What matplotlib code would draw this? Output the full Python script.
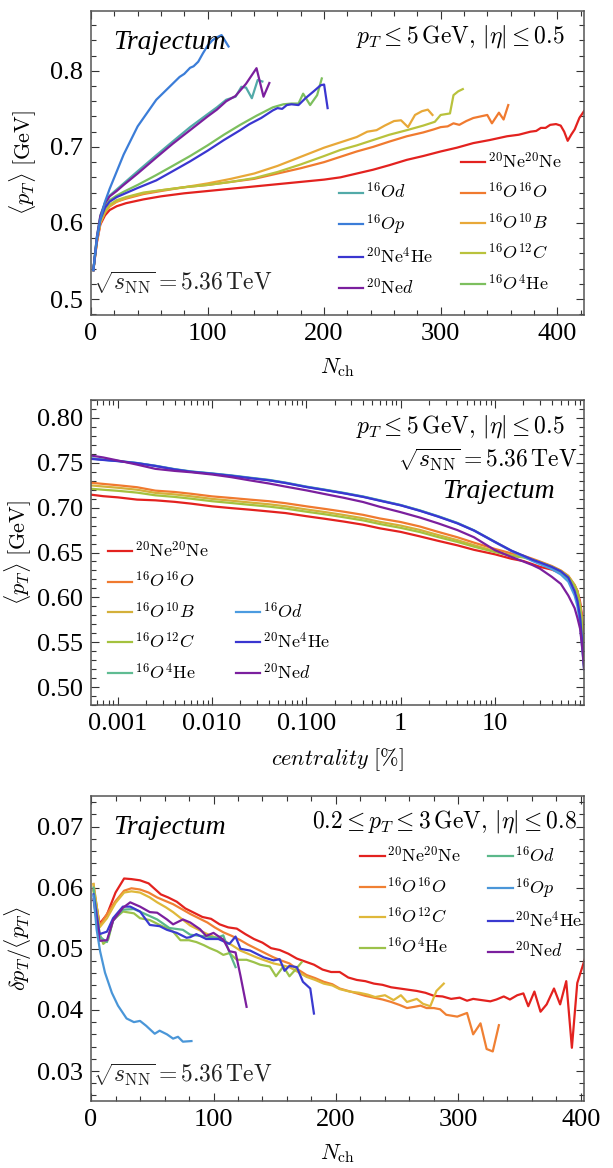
import matplotlib
matplotlib.use('Agg')
import matplotlib.pyplot as plt
from matplotlib.lines import Line2D
from matplotlib.ticker import MultipleLocator, LogLocator, NullFormatter

plt.rcParams['font.family'] = ['Liberation Serif', 'DejaVu Serif']
plt.rcParams['mathtext.fontset'] = 'cm'

# ---------------- painel 1: <pT> vs Nch ----------------
n1_NeNe = [2, 5, 8, 12, 16, 22, 30, 45, 60, 80, 100, 120, 140, 160, 180, 200, 214, 228, 242, 256, 271, 285,
           300, 314, 328, 342, 357, 367, 377, 382, 386, 390, 394, 399, 403, 406, 409, 412, 415, 419, 423]
p1_NeNe = [0.538, 0.574, 0.598, 0.610, 0.617, 0.622, 0.626, 0.631, 0.635, 0.639, 0.642, 0.645, 0.648, 0.651,
           0.654, 0.657, 0.660, 0.665, 0.670, 0.676, 0.683, 0.688, 0.694, 0.699, 0.705, 0.709, 0.714, 0.716,
           0.720, 0.721, 0.725, 0.725, 0.729, 0.730, 0.728, 0.720, 0.708, 0.716, 0.723, 0.738, 0.747]
n1_OO = [2, 5, 8, 12, 16, 22, 30, 45, 60, 80, 100, 120, 140, 160, 180, 200, 214, 228, 242, 256, 271, 285, 294,
         300, 306, 311, 316, 322, 328, 334, 340, 344, 350, 354, 358]
p1_OO = [0.538, 0.576, 0.600, 0.614, 0.622, 0.628, 0.632, 0.638, 0.642, 0.647, 0.650, 0.654, 0.658, 0.665, 0.672,
         0.680, 0.687, 0.694, 0.700, 0.707, 0.714, 0.719, 0.723, 0.726, 0.727, 0.731, 0.729, 0.734, 0.738, 0.740,
         0.742, 0.731, 0.745, 0.736, 0.755]
n1_OB = [2, 5, 8, 12, 16, 22, 30, 45, 60, 80, 100, 120, 140, 160, 180, 200, 214, 228, 237, 245, 252, 260, 266,
         272, 278, 284, 289, 293]
p1_OB = [0.538, 0.576, 0.600, 0.614, 0.622, 0.628, 0.633, 0.639, 0.643, 0.647, 0.652, 0.658, 0.665, 0.675, 0.687,
         0.699, 0.706, 0.713, 0.720, 0.722, 0.728, 0.734, 0.735, 0.726, 0.742, 0.747, 0.749, 0.742]
n1_OC = [2, 5, 8, 12, 16, 22, 30, 45, 60, 80, 100, 120, 140, 160, 180, 200, 214, 228, 242, 256, 271, 285, 295,
         300, 308, 311, 315, 319]
p1_OC = [0.538, 0.577, 0.602, 0.616, 0.624, 0.630, 0.634, 0.640, 0.643, 0.647, 0.650, 0.654, 0.659, 0.667, 0.677,
         0.688, 0.696, 0.702, 0.709, 0.716, 0.722, 0.728, 0.733, 0.742, 0.744, 0.768, 0.773, 0.776]
n1_OHe = [2, 5, 8, 12, 16, 22, 28, 40, 56, 70, 85, 100, 114, 128, 142, 156, 165, 172, 178, 182, 188, 194, 198]
p1_OHe = [0.538, 0.580, 0.607, 0.622, 0.630, 0.636, 0.641, 0.650, 0.663, 0.675, 0.688, 0.702, 0.716, 0.729,
          0.741, 0.752, 0.756, 0.757, 0.757, 0.770, 0.755, 0.768, 0.790]
n1_NeHe = [2, 5, 8, 12, 16, 22, 28, 40, 56, 70, 85, 100, 114, 128, 136, 146, 156, 160, 164, 168, 172, 178, 184,
           191, 197, 200, 203]
p1_NeHe = [0.538, 0.578, 0.605, 0.620, 0.628, 0.634, 0.638, 0.646, 0.656, 0.668, 0.681, 0.695, 0.709, 0.722,
           0.730, 0.738, 0.748, 0.751, 0.750, 0.755, 0.756, 0.755, 0.764, 0.773, 0.781, 0.782, 0.751]
n1_Od = [2, 5, 8, 12, 16, 22, 28, 40, 56, 70, 85, 100, 108, 116, 124, 129, 133, 138, 143, 147]
p1_Od = [0.538, 0.582, 0.610, 0.627, 0.636, 0.644, 0.652, 0.668, 0.689, 0.707, 0.726, 0.743, 0.752, 0.762, 0.766,
         0.779, 0.778, 0.764, 0.788, 0.786]
n1_Ned = [2, 5, 8, 12, 16, 22, 28, 40, 56, 70, 85, 100, 108, 116, 124, 133, 142, 148, 153]
p1_Ned = [0.538, 0.581, 0.609, 0.626, 0.635, 0.642, 0.650, 0.665, 0.686, 0.704, 0.722, 0.740, 0.749, 0.760,
          0.767, 0.783, 0.8035, 0.766, 0.784]
n1_Op = [2, 5, 8, 12, 16, 20, 28, 40, 56, 70, 76, 80, 85, 88, 92, 96, 100, 104, 108, 112, 118]
p1_Op = [0.538, 0.580, 0.605, 0.628, 0.645, 0.660, 0.690, 0.727, 0.762, 0.783, 0.792, 0.796, 0.804, 0.806,
         0.812, 0.823, 0.833, 0.840, 0.844, 0.847, 0.832]

# ---------------- painel 2: <pT> vs centralidade ----------------
cent = [0.00052, 0.0007, 0.001, 0.0016, 0.0025, 0.004, 0.006, 0.01, 0.016, 0.025, 0.04, 0.06, 0.1, 0.16, 0.25,
        0.4, 0.6, 1, 1.6, 2.5, 4, 6, 10, 15, 20, 25, 30, 40, 50, 60, 70, 75, 80, 83, 85, 86.5, 88]
c_NeNe = [0.7145, 0.7128, 0.7115, 0.7090, 0.7082, 0.7065, 0.7045, 0.7015, 0.6995, 0.6978, 0.6958, 0.6940,
          0.6905, 0.6875, 0.6845, 0.6810, 0.6770, 0.6730, 0.6680, 0.6630, 0.6580, 0.6530, 0.6480, 0.6430,
          0.6405, 0.6370, 0.6340, 0.6310, 0.6270, 0.6210, 0.6130, 0.6070, 0.5950, 0.5830, 0.5720, 0.5600, 0.5450]
c_OO = [0.7278, 0.7265, 0.7250, 0.7228, 0.7190, 0.7175, 0.7155, 0.7126, 0.7108, 0.7090, 0.7072, 0.7050, 0.7015,
        0.6985, 0.6955, 0.6920, 0.6880, 0.6840, 0.6790, 0.6730, 0.6670, 0.6610, 0.6540, 0.6490, 0.6465, 0.6430,
        0.6400, 0.6350, 0.6300, 0.6240, 0.6140, 0.6070, 0.5920, 0.5780, 0.5650, 0.5480, 0.5350]
c_OB = [0.7248, 0.7236, 0.7222, 0.7200, 0.7165, 0.7148, 0.7127, 0.7098, 0.7078, 0.7058, 0.7038, 0.7016, 0.6980,
        0.6950, 0.6918, 0.6882, 0.6842, 0.6800, 0.6752, 0.6695, 0.6638, 0.6582, 0.6515, 0.6470, 0.6450, 0.6420,
        0.6393, 0.6345, 0.6295, 0.6235, 0.6135, 0.6060, 0.5910, 0.5770, 0.5640, 0.5470, 0.5340]
c_OC = [0.7211, 0.7200, 0.7188, 0.7168, 0.7138, 0.7120, 0.7100, 0.7072, 0.7052, 0.7032, 0.7012, 0.6990, 0.6955,
        0.6925, 0.6893, 0.6858, 0.6818, 0.6775, 0.6728, 0.6672, 0.6618, 0.6565, 0.6505, 0.6462, 0.6445, 0.6418,
        0.6390, 0.6342, 0.6290, 0.6228, 0.6128, 0.6050, 0.5900, 0.5760, 0.5630, 0.5460, 0.5330]
c_NeHe = [0.7544, 0.7532, 0.7519, 0.7496, 0.7465, 0.7426, 0.7400, 0.7378, 0.7355, 0.7330, 0.7305, 0.7275,
          0.7230, 0.7195, 0.7160, 0.7120, 0.7078, 0.7026, 0.6965, 0.6900, 0.6825, 0.6745, 0.6618, 0.6520,
          0.6465, 0.6420, 0.6390, 0.6340, 0.6290, 0.6220, 0.6070, 0.5960, 0.5780, 0.5580, 0.5450, 0.5350, 0.5250]
c_OHe = [0.7550, 0.7536, 0.7522, 0.7498, 0.7468, 0.7430, 0.7404, 0.7382, 0.7360, 0.7335, 0.7310, 0.7280,
         0.7235, 0.7200, 0.7165, 0.7125, 0.7083, 0.7030, 0.6970, 0.6905, 0.6830, 0.6748, 0.6620, 0.6520,
         0.6463, 0.6415, 0.6383, 0.6330, 0.6275, 0.6200, 0.6050, 0.5940, 0.5760, 0.5560, 0.5430, 0.5330, 0.5230]
c_Od = [0.7548, 0.7534, 0.7520, 0.7497, 0.7466, 0.7428, 0.7402, 0.7380, 0.7357, 0.7332, 0.7307, 0.7277, 0.7232,
        0.7197, 0.7162, 0.7122, 0.7080, 0.7028, 0.6967, 0.6902, 0.6827, 0.6745, 0.6615, 0.6515, 0.6455, 0.6405,
        0.6370, 0.6315, 0.6255, 0.6175, 0.6020, 0.5900, 0.5700, 0.5500, 0.5380, 0.5300, 0.5200]
c_Ned = [0.7581, 0.7560, 0.7526, 0.7480, 0.7433, 0.7410, 0.7395, 0.7370, 0.7340, 0.7305, 0.7270, 0.7235,
         0.7193, 0.7150, 0.7110, 0.7063, 0.7010, 0.6950, 0.6890, 0.6825, 0.6750, 0.6670, 0.6526, 0.6450,
         0.6400, 0.6360, 0.6320, 0.6230, 0.6150, 0.6020, 0.5880, 0.5770, 0.5650, 0.5500, 0.5400, 0.5300, 0.5200]

# ---------------- painel 3: delta pT/<pT> vs Nch ----------------
n3_NeNe = [2, 7, 13, 20, 27, 33, 40, 47, 52, 57, 63, 70, 77, 84, 91, 98, 105, 112, 119, 126, 133, 140, 147, 154,
           161, 168, 175, 182, 189, 196, 203, 210, 217, 224, 231, 238, 245, 252, 259, 266, 273, 280, 287, 294,
           301, 307, 312, 319, 326, 331, 337, 342, 348, 353, 357, 362, 367, 372, 378, 383, 388, 392.6, 397, 403]
d3_NeNe = [0.0598, 0.0541, 0.0556, 0.0592, 0.0615, 0.0614, 0.0612, 0.0607, 0.0598, 0.0589, 0.0584, 0.0577,
           0.0566, 0.0559, 0.0552, 0.0549, 0.0540, 0.0535, 0.0533, 0.0524, 0.0516, 0.0510, 0.0501, 0.0498,
           0.0492, 0.0484, 0.0479, 0.0474, 0.0466, 0.0462, 0.0462, 0.0453, 0.0449, 0.0447, 0.0443, 0.0441,
           0.0437, 0.0435, 0.0433, 0.0431, 0.0428, 0.0423, 0.0422, 0.0418, 0.0420, 0.0415, 0.0418, 0.0416,
           0.0414, 0.0417, 0.0422, 0.0417, 0.0424, 0.0427, 0.0406, 0.0430, 0.0397, 0.0409, 0.0435, 0.0409,
           0.0447, 0.0338, 0.0444, 0.0482]
n3_OO = [2, 7, 13, 20, 27, 33, 40, 47, 54, 61, 67, 74, 81, 88, 95, 101, 108, 115, 122, 128, 135, 142, 149, 155,
         162, 169, 176, 183, 190, 197, 203, 210, 217, 224, 231, 238, 245, 252, 258, 264, 269, 274, 280, 285, 290,
         299, 307, 312, 318, 323, 328, 333]
d3_OO = [0.0606, 0.0537, 0.0557, 0.0578, 0.0595, 0.0599, 0.0597, 0.0592, 0.0584, 0.0578, 0.0573, 0.0565, 0.0557,
         0.0550, 0.0543, 0.0535, 0.0527, 0.0521, 0.0514, 0.0507, 0.0500, 0.0493, 0.0486, 0.0481, 0.0476, 0.0466,
         0.0457, 0.0452, 0.0446, 0.0442, 0.0435, 0.0431, 0.0427, 0.0423, 0.0420, 0.0417, 0.0413, 0.0408, 0.0403,
         0.0405, 0.0407, 0.0403, 0.0403, 0.0401, 0.0392, 0.0389, 0.0395, 0.0360, 0.0378, 0.0336, 0.0332, 0.0375]
n3_OC = [2, 7, 13, 20, 27, 33, 40, 48, 54, 61, 67, 74, 81, 88, 95, 101, 108, 115, 122, 128, 135, 142, 149, 156,
         162, 169, 176, 183, 190, 197, 203, 211, 219, 226, 232, 240, 247, 253, 258, 266, 271, 277, 282, 288]
d3_OC = [0.0606, 0.0535, 0.0550, 0.0575, 0.0592, 0.0594, 0.0592, 0.0584, 0.0576, 0.0568, 0.0560, 0.0549, 0.0538,
         0.0531, 0.0524, 0.0519, 0.0514, 0.0506, 0.0497, 0.0492, 0.0486, 0.0481, 0.0476, 0.0473, 0.0470, 0.0462,
         0.0454, 0.0449, 0.0443, 0.0440, 0.0434, 0.0430, 0.0428, 0.0425, 0.0421, 0.0424, 0.0416, 0.0424, 0.0413,
         0.0418, 0.0410, 0.0406, 0.0431, 0.0443]
n3_OHe = [2, 7, 10, 14, 18, 26, 35, 40, 48, 56, 63, 67, 73, 80, 86, 92, 97, 103, 108, 113, 119, 127, 133, 138,
          146, 151, 157, 162, 167, 172]
d3_OHe = [0.0595, 0.0525, 0.0508, 0.0515, 0.0547, 0.0561, 0.0558, 0.0550, 0.0547, 0.0539, 0.0533, 0.0528,
          0.0514, 0.0514, 0.0511, 0.0506, 0.0501, 0.0496, 0.0490, 0.0493, 0.0482, 0.0482, 0.0478, 0.0474,
          0.0471, 0.0455, 0.0471, 0.0455, 0.0466, 0.0478]
n3_NeHe = [2, 7, 13, 18, 26, 32, 40, 48, 56, 62, 70, 78, 81, 86, 94, 104, 113, 118, 122, 130, 141, 149, 154, 158,
           162, 168, 173, 179, 182]
d3_NeHe = [0.0589, 0.0524, 0.0528, 0.0550, 0.0569, 0.0569, 0.0561, 0.0539, 0.0537, 0.0531, 0.0526, 0.0518,
           0.0519, 0.0524, 0.0516, 0.0516, 0.0508, 0.0520, 0.0500, 0.0497, 0.0486, 0.0481, 0.0483, 0.0464,
           0.0472, 0.0470, 0.0446, 0.0435, 0.0394]
n3_Ned = [2, 7, 13, 18, 26, 32, 40, 48, 54, 62, 67, 75, 81, 89, 94, 100, 108, 113, 118, 122, 127]
d3_Ned = [0.0581, 0.0513, 0.0514, 0.0546, 0.0567, 0.0576, 0.0569, 0.0560, 0.0559, 0.0548, 0.0540, 0.0548,
          0.0543, 0.0532, 0.0521, 0.0526, 0.0515, 0.0496, 0.0494, 0.0456, 0.0405]
n3_Od = [2, 7, 13, 18, 26, 35, 43, 54, 64, 75, 81, 94, 103, 108, 113, 118]
d3_Od = [0.0600, 0.0520, 0.0511, 0.0546, 0.0564, 0.0565, 0.0558, 0.0548, 0.0534, 0.0531, 0.0523, 0.0520,
         0.0518, 0.0522, 0.0494, 0.0470]
n3_Op = [2, 4.6, 7.4, 11.4, 17, 22, 29, 35, 40, 45, 52, 56, 62, 67, 71, 75, 82]
d3_Op = [0.0587, 0.0531, 0.0496, 0.0461, 0.0428, 0.0407, 0.0386, 0.0380, 0.0382, 0.0374, 0.0361, 0.0366,
         0.0360, 0.0353, 0.0356, 0.0348, 0.0349]

rotulos = {
    'NeNe': r'$^{20}\mathrm{Ne}^{20}\mathrm{Ne}$',
    'OO': r'$^{16}O^{16}O$',
    'OB': r'$^{16}O^{10}B$',
    'OC': r'$^{16}O^{12}C$',
    'OHe': r'$^{16}O^{4}\mathrm{He}$',
    'Od': r'$^{16}Od$',
    'Op': r'$^{16}Op$',
    'NeHe': r'$^{20}\mathrm{Ne}^{4}\mathrm{He}$',
    'Ned': r'$^{20}\mathrm{Ne}d$',
}

cores1 = {'NeNe': '#e3221f', 'OO': '#f07a2f', 'OB': '#e8a838', 'OC': '#b9c23c', 'OHe': '#7dbf5e',
          'Od': '#52aaa8', 'Op': '#3b7dd8', 'NeHe': '#3a36d0', 'Ned': '#7b1f9e'}
cores2 = {'NeNe': '#e3221f', 'OO': '#f07a2f', 'OB': '#d4b03a', 'OC': '#a4c23e', 'OHe': '#5fbc92',
          'Od': '#4b9be0', 'NeHe': '#3a36d0', 'Ned': '#7b1f9e'}
cores3 = {'NeNe': '#e3221f', 'OO': '#f08033', 'OC': '#dfb83a', 'OHe': '#9cc24a', 'Od': '#5bb88a',
          'Op': '#4a96d8', 'NeHe': '#3a3ad0', 'Ned': '#7b1f9e'}

LW = 1.6
FS_TICK = 19
FS_LAB = 16
FS_LEG = 13
FS_TXT = 17
FS_TRAJ = 20


def estilo(ax):
    for s in ax.spines.values():
        s.set_color('#555555')
        s.set_linewidth(1.1)
    ax.tick_params(which='both', direction='in', top=True, right=True, color='#333333', width=0.8,
                   labelsize=FS_TICK)
    ax.tick_params(which='major', length=6, pad=6)
    ax.tick_params(which='minor', length=3.5)


def legenda(ax, colunas, x, y, cores):
    handles = []
    vazios = []
    for col in colunas:
        for nome in col:
            if nome is None:
                vazios.append(len(handles))
                handles.append(Line2D([], [], color='none', label=rotulos['OO']))
            else:
                handles.append(Line2D([], [], color=cores[nome], lw=LW, label=rotulos[nome]))
    leg = ax.legend(handles=handles, ncol=len(colunas), loc='upper left', bbox_to_anchor=(x, y),
                    frameon=False, fontsize=FS_LEG, handlelength=1.35, handletextpad=0.15,
                    labelspacing=0.55, columnspacing=1.5, borderpad=0, borderaxespad=0)
    for i in vazios:
        leg.get_texts()[i].set_color('none')


fig = plt.figure(figsize=(6.13, 11.68), dpi=100)

# ---- painel 1 ----
ax1 = fig.add_axes([0.1485, 0.7303, 0.8042, 0.2605])
series1 = [(n1_NeNe, p1_NeNe, 'NeNe'), (n1_OO, p1_OO, 'OO'), (n1_OB, p1_OB, 'OB'), (n1_OC, p1_OC, 'OC'),
           (n1_OHe, p1_OHe, 'OHe'), (n1_NeHe, p1_NeHe, 'NeHe'), (n1_Od, p1_Od, 'Od'), (n1_Ned, p1_Ned, 'Ned'),
           (n1_Op, p1_Op, 'Op')]
for x, y, nome in series1:
    ax1.plot(x, y, color=cores1[nome], lw=LW)
ax1.set_xlim(0, 423)
ax1.set_ylim(0.479, 0.879)
ax1.xaxis.set_major_locator(MultipleLocator(100))
ax1.xaxis.set_minor_locator(MultipleLocator(20))
ax1.yaxis.set_major_locator(MultipleLocator(0.1))
ax1.yaxis.set_minor_locator(MultipleLocator(0.02))
estilo(ax1)
ax1.set_xlabel(r'$N_{\mathrm{ch}}$', fontsize=FS_LAB, labelpad=8)
ax1.set_ylabel(r'$\langle p_T\rangle\ [\mathrm{GeV}]$', fontsize=FS_LAB)
ax1.yaxis.set_label_coords(-0.105, 0.5)
ax1.text(0.045, 0.897, 'Trajectum', transform=ax1.transAxes, fontsize=FS_TRAJ, style='italic', va='center')
ax1.text(0.961, 0.915, r'$p_T \leq 5\,\mathrm{GeV},\, |\eta| \leq 0.5$', transform=ax1.transAxes,
         fontsize=FS_TXT, ha='right', va='center')
ax1.text(0.005, 0.105, r'$\sqrt{s_{\mathrm{NN}}} = 5.36\,\mathrm{TeV}$', transform=ax1.transAxes,
         fontsize=FS_TXT, ha='left', va='center', color='#222222')
legenda(ax1, [[None, 'Od', 'Op', 'NeHe', 'Ned'], ['NeNe', 'OO', 'OB', 'OC', 'OHe']], 0.503, 0.536, cores1)

# ---- painel 2 ----
ax2 = fig.add_axes([0.1485, 0.3964, 0.8042, 0.2611])
series2 = [(c_NeNe, 'NeNe'), (c_OO, 'OO'), (c_OB, 'OB'), (c_OC, 'OC'), (c_OHe, 'OHe'), (c_Od, 'Od'),
           (c_NeHe, 'NeHe'), (c_Ned, 'Ned')]
for y, nome in series2:
    ax2.plot(cent, y, color=cores2[nome], lw=LW)
ax2.set_xscale('log')
ax2.set_xlim(0.00052, 88)
ax2.set_ylim(0.48, 0.82)
ax2.set_xticks([0.001, 0.01, 0.1, 1, 10])
ax2.set_xticklabels(['0.001', '0.010', '0.100', '1', '10'])
ax2.xaxis.set_minor_locator(LogLocator(base=10, subs=range(2, 10)))
ax2.xaxis.set_minor_formatter(NullFormatter())
ax2.yaxis.set_major_locator(MultipleLocator(0.05))
ax2.yaxis.set_minor_locator(MultipleLocator(0.01))
ax2.yaxis.set_major_formatter(plt.FormatStrFormatter('%.2f'))
estilo(ax2)
ax2.set_xlabel(r'$centrality\ [\%]$', fontsize=FS_LAB, labelpad=8)
ax2.set_ylabel(r'$\langle p_T\rangle\ [\mathrm{GeV}]$', fontsize=FS_LAB)
ax2.yaxis.set_label_coords(-0.115, 0.5)
ax2.text(0.961, 0.912, r'$p_T \leq 5\,\mathrm{GeV},\, |\eta| \leq 0.5$', transform=ax2.transAxes,
         fontsize=FS_TXT, ha='right', va='center')
ax2.text(0.987, 0.803, r'$\sqrt{s_{\mathrm{NN}}} = 5.36\,\mathrm{TeV}$', transform=ax2.transAxes,
         fontsize=FS_TXT, ha='right', va='center')
ax2.text(0.941, 0.699, 'Trajectum', transform=ax2.transAxes, fontsize=FS_TRAJ, style='italic',
         ha='right', va='center')
legenda(ax2, [['NeNe', 'OO', 'OB', 'OC', 'OHe'], [None, None, 'Od', 'NeHe', 'Ned']], 0.0345, 0.538, cores2)

# ---- painel 3 ----
ax3 = fig.add_axes([0.1485, 0.0574, 0.8042, 0.2611])
series3 = [(n3_NeNe, d3_NeNe, 'NeNe'), (n3_OO, d3_OO, 'OO'), (n3_OC, d3_OC, 'OC'), (n3_OHe, d3_OHe, 'OHe'),
           (n3_Od, d3_Od, 'Od'), (n3_NeHe, d3_NeHe, 'NeHe'), (n3_Ned, d3_Ned, 'Ned'), (n3_Op, d3_Op, 'Op')]
for x, y, nome in series3:
    ax3.plot(x, y, color=cores3[nome], lw=LW)
ax3.set_xlim(0, 402.5)
ax3.set_ylim(0.0251, 0.075)
ax3.xaxis.set_major_locator(MultipleLocator(100))
ax3.xaxis.set_minor_locator(MultipleLocator(20))
ax3.yaxis.set_major_locator(MultipleLocator(0.01))
ax3.yaxis.set_minor_locator(MultipleLocator(0.002))
ax3.yaxis.set_major_formatter(plt.FormatStrFormatter('%.2f'))
estilo(ax3)
ax3.set_xlabel(r'$N_{\mathrm{ch}}$', fontsize=FS_LAB, labelpad=8)
ax3.set_ylabel(r'$\delta p_T/\langle p_T\rangle$', fontsize=FS_LAB)
ax3.yaxis.set_label_coords(-0.115, 0.5)
ax3.text(0.045, 0.896, 'Trajectum', transform=ax3.transAxes, fontsize=FS_TRAJ, style='italic', va='center')
ax3.text(0.985, 0.916, r'$0.2 \leq p_T \leq 3\,\mathrm{GeV},\, |\eta| \leq 0.8$', transform=ax3.transAxes,
         fontsize=FS_TXT, ha='right', va='center')
ax3.text(0.005, 0.085, r'$\sqrt{s_{\mathrm{NN}}} = 5.36\,\mathrm{TeV}$', transform=ax3.transAxes,
         fontsize=FS_TXT, ha='left', va='center', color='#222222')
legenda(ax3, [['NeNe', 'OO', 'OC', 'OHe'], ['Od', 'Op', 'NeHe', 'Ned']], 0.546, 0.836, cores3)

fig.savefig('out.png', dpi=100)
